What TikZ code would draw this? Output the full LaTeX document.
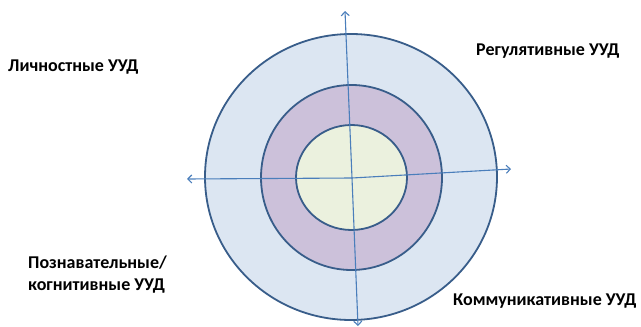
\documentclass[tikz,border=0pt]{standalone}
\usepackage{fontspec}
\setmainfont{Carlito}
\usepackage{xcolor}
\usepackage{tikz}
\usetikzlibrary{shapes.geometric, arrows.meta, positioning}

\definecolor{ringline}{HTML}{385D8A}
\definecolor{axisline}{HTML}{4A7EBB}
\definecolor{outerfill}{HTML}{DCE6F2}
\definecolor{midfill}{HTML}{CCC1DA}
\definecolor{innerfill}{HTML}{EBF1DE}

\begin{document}
\begin{tikzpicture}[
    x=1pt, y=-1pt,
    ring/.style={ellipse, draw=ringline, line width=1.8pt, inner sep=0pt},
    axis/.style={draw=axisline, line width=1.1pt, -{Straight Barb[length=4pt,width=8pt]}},
    label/.style={font=\fontsize{18}{22}\selectfont\bfseries, align=left, inner sep=0pt}
]
\useasboundingbox (0,0) rectangle (641,327);
% Rings
\node [ring, fill=outerfill, minimum width=292pt, minimum height=286pt] (outer) at (351,177) {};
\node [ring, fill=midfill, minimum width=181pt, minimum height=185pt] (middle) at (351.5,177.5) {};
\node [ring, fill=innerfill, minimum width=111pt, minimum height=105pt] (inner) at (351.5,177.5) {};

% Axes
\coordinate (c) at (352,178);
\coordinate (up) at (345,11);
\coordinate (down) at (358,326);
\coordinate (left) at (187,179);
\coordinate (right) at (511,169);
\draw [axis] (c) -- (up);
\draw [axis] (c) -- (down);
\draw [axis] (c) -- (left);
\draw [axis] (c) -- (right);

% Labels
\node [label, anchor=west] (lich) at (8,67) {Личностные УУД};
\node [label, anchor=west] (reg) at (476,51) {Регулятивные УУД};
\node [label, anchor=west] (pozn) at (28,275) {Познавательные/\\когнитивные УУД};
\node [label, anchor=west] (komm) at (453,301) {Коммуникативные УУД};
\end{tikzpicture}
\end{document}
